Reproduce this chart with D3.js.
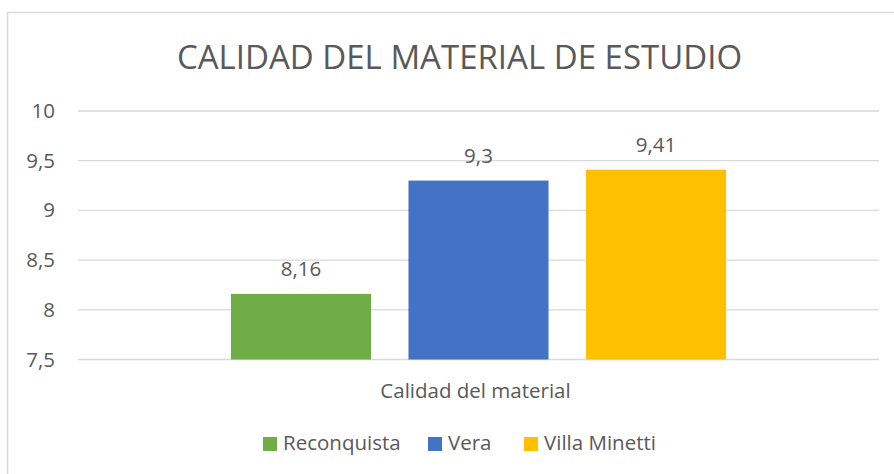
<!DOCTYPE html>
<html><head><meta charset="utf-8">
<script src="https://cdn.jsdelivr.net/npm/d3@7"></script>
<style>body{margin:0;background:#fff}svg{display:block}text{font-family:"Open Sans","Noto Sans",sans-serif;fill:#595959}</style>
</head><body>
<svg id="c" width="894" height="474"></svg>
<script>
const title = "CALIDAD DEL MATERIAL DE ESTUDIO";
const categories = ["Calidad del material"];
const series = ["Reconquista", "Vera", "Villa Minetti"];
const values = [8.16, 9.3, 9.41];
const colors = ["#70AD47", "#4472C4", "#FFC000"];
const yTicks = [7.5, 8, 8.5, 9, 9.5, 10];

const svg = d3.select("#c");
// chart border (partially cropped)
svg.append("rect").attr("x", 7.5).attr("y", 12.5).attr("width", 1000).attr("height", 1000)
  .attr("fill", "none").attr("stroke", "#d9d9d9").attr("stroke-width", 1.5);

const pL = 78, pR = 879, pT = 111, pB = 359.5;
const fs = "20.5px";
const y = d3.scaleLinear().domain([7.5, 10]).range([pB, pT]);
const x0 = d3.scaleBand().domain(categories).range([pL, pR]).paddingInner(0).paddingOuter(0.309);
const x1 = d3.scaleBand().domain(series).range([0, x0.bandwidth()]).paddingInner(0.211).paddingOuter(0);
const fmt = v => String(v).replace(".", ",");

// gridlines
svg.append("g").selectAll("line").data(yTicks).join("line")
  .attr("x1", pL).attr("x2", pR)
  .attr("y1", d => y(d)).attr("y2", d => y(d))
  .attr("stroke", "#d9d9d9").attr("stroke-width", 1.3);

// y axis labels
const yAxis = d3.axisLeft(y).tickValues(yTicks).tickFormat(fmt).tickSize(0).tickPadding(0);
const gy = svg.append("g").attr("transform", `translate(55,0)`).call(yAxis);
gy.select(".domain").remove();
gy.selectAll("text").style("font-size", fs).attr("fill", "#595959").attr("font-family", null);

// bars
const g = svg.append("g").attr("transform", `translate(${x0(categories[0])},0)`);
g.selectAll("rect").data(series).join("rect")
  .attr("x", d => x1(d)).attr("width", x1.bandwidth())
  .attr("y", (d, i) => y(values[i])).attr("height", (d, i) => pB - y(values[i]))
  .attr("fill", (d, i) => colors[i]);
g.selectAll("text.lbl").data(series).join("text").attr("class", "lbl")
  .attr("x", d => x1(d) + x1.bandwidth() / 2)
  .attr("y", (d, i) => y(values[i]) - 17.5)
  .attr("text-anchor", "middle").style("font-size", fs)
  .text((d, i) => fmt(values[i]));

// category axis label
const xAxis = d3.axisBottom(x0).tickSize(0).tickPadding(0);
const gx = svg.append("g").attr("transform", `translate(-3,${pB + 38.5})`).call(xAxis);
gx.select(".domain").remove();
gx.selectAll("text").style("font-size", fs).attr("fill", "#595959").attr("font-family", null).attr("dy", 0);

// title
svg.append("text").attr("x", 459.5).attr("y", 69).attr("text-anchor", "middle")
  .style("font-size", "33px").text(title);

// legend
const legendX = [263, 428, 524];
const lg = svg.append("g");
series.forEach((s, i) => {
  lg.append("rect").attr("x", legendX[i]).attr("y", 437).attr("width", 14).attr("height", 14).attr("fill", colors[i]);
  lg.append("text").attr("x", legendX[i] + 20).attr("y", 450).style("font-size", fs).text(s);
});
</script>
</body></html>
